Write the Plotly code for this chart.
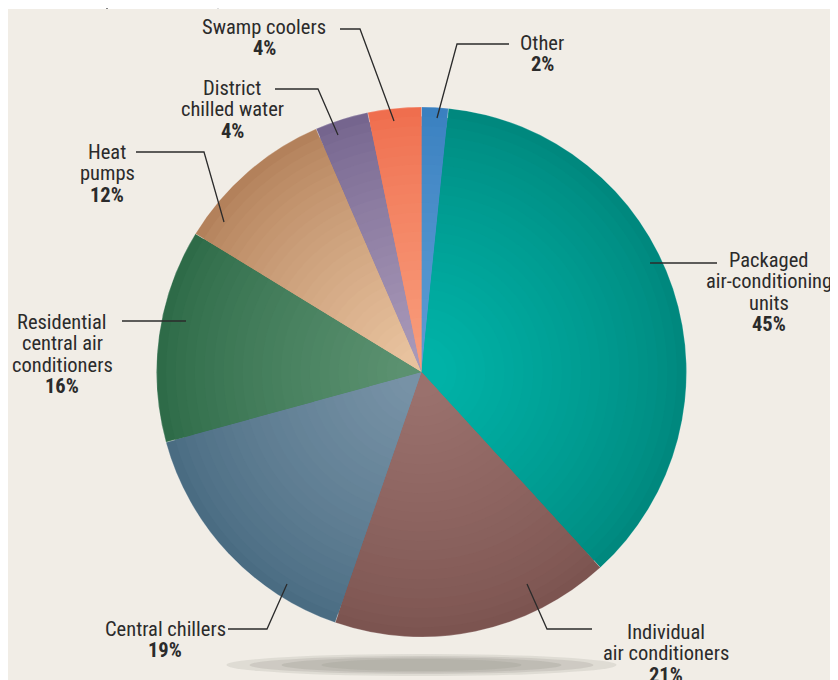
import plotly.graph_objects as go

# ---------------- data ----------------
categories = ["Other", "Packaged air-conditioning units", "Individual air conditioners",
              "Central chillers", "Residential central air conditioners", "Heat pumps",
              "District chilled water", "Swamp coolers"]
shares = [2, 45, 21, 19, 16, 12, 4, 4]
label_lines = [["Other"], ["Packaged", "air-conditioning", "units"], ["Individual", "air conditioners"],
               ["Central chillers"], ["Residential", "central air", "conditioners"], ["Heat", "pumps"],
               ["District", "chilled water"], ["Swamp coolers"]]
# rim (darker) and centre (lighter) shade of each slice
colors_rim = ["#3a80c0", "#00887e", "#7c5450", "#4a6c82", "#2e6b48", "#b3815b", "#75658e", "#ef6e4e"]
colors_mid = ["#5a9bd3", "#00b2a7", "#9a716d", "#7792a6", "#5b9170", "#e8c29e", "#a898b8", "#f89b7a"]

# ---------------- layout helpers ----------------
OFF = 8                      # page body margin
W, H = 838 - OFF, 680 - OFF  # figure size so that it fills the window
def px(x): return (x - OFF) / W
def py(y): return 1 - (y - OFF) / H

def hex2rgb(h): return tuple(int(h[i:i + 2], 16) for i in (1, 3, 5))
def mix(a, b, t):
    ca, cb = hex2rgb(a), hex2rgb(b)
    return "rgb(%d,%d,%d)" % tuple(round(ca[i] + (cb[i] - ca[i]) * t) for i in range(3))

# label block: (center x, y of first line) in window pixels; leader polyline points
label_pos = [(542, 43), (769, 260), (666, 632), (165, 629), (62, 322), (107, 152), (232, 88), (264, 27)]
leaders = [
    [(509, 44), (457, 44), (437, 118)],
    [(717, 263), (650, 263)],
    [(592, 629), (547, 629), (527, 584)],
    [(228, 629), (267, 629), (287, 584)],
    [(122, 321), (186, 321)],
    [(136, 152), (204, 152), (224, 222)],
    [(275, 89), (318, 89), (338, 135)],
    [(340, 29), (360, 29), (394, 121)],
]
LINE = 21.3
FONT = "Liberation Sans Narrow, Roboto Condensed, DejaVu Sans Condensed, Arial Narrow, sans-serif"

cx, cy, r = 421.5, 372, 265

fig = go.Figure()
N = 26
for k in range(N):
    rk = r * (1 - k / N * 0.94)
    t = (k / (N - 1)) ** 0.8
    fig.add_trace(go.Pie(
        labels=categories, values=shares, sort=False, direction="clockwise", rotation=0,
        marker=dict(colors=[mix(a, b, t) for a, b in zip(colors_rim, colors_mid)],
                    line=dict(color="rgba(255,255,255,0.35)" if k == 0 else "rgba(0,0,0,0)",
                              width=0.6 if k == 0 else 0)),
        textinfo="none", hovertemplate="%{label}: %{value}%<extra></extra>",
        domain=dict(x=[px(cx - rk), px(cx + rk)], y=[py(cy + rk), py(cy - rk)]),
        showlegend=False,
    ))

shapes = [
    dict(type="rect", xref="paper", yref="paper", x0=px(8), x1=1, y0=0, y1=py(9),
         fillcolor="#f1ede6", line=dict(width=0), layer="below"),
    dict(type="line", xref="paper", yref="paper", x0=px(107), x1=px(107), y0=py(8), y1=py(9),
         line=dict(color="#333333", width=1.2)),
    dict(type="line", xref="paper", yref="paper", x0=px(218), x1=px(218), y0=py(8), y1=py(9),
         line=dict(color="#bbbbbb", width=1)),
]
# soft shadow under pie
for hw, hh, op in [(195, 11, 0.22), (172, 9, 0.28), (140, 7.5, 0.32), (100, 6, 0.3)]:
    shapes.append(dict(type="circle", xref="paper", yref="paper",
                       x0=px(cx - hw), x1=px(cx + hw), y0=py(665 + hh), y1=py(665 - hh),
                       fillcolor=f"rgba(160,158,150,{op})", line=dict(width=0), layer="below"))
for pts in leaders:
    path = "M " + " L ".join(f"{px(x)},{py(y)}" for x, y in pts)
    shapes.append(dict(type="path", xref="paper", yref="paper", path=path,
                       line=dict(color="#2b2b2b", width=1.3)))

annotations = []
for lines, share, (lx, ly) in zip(label_lines, shares, label_pos):
    for i, t in enumerate(lines + [f"<b>{share}%</b>"]):
        annotations.append(dict(x=px(lx), y=py(ly + i * LINE), xref="paper", yref="paper",
                                text=t, showarrow=False, xanchor="center", yanchor="middle",
                                font=dict(family=FONT, size=20.5, color="#2b2b2b")))

fig.update_layout(
    width=W, height=H, margin=dict(l=0, r=0, t=0, b=0),
    paper_bgcolor="white", plot_bgcolor="white",
    shapes=shapes, annotations=annotations,
)
fig.write_html("out.html")
